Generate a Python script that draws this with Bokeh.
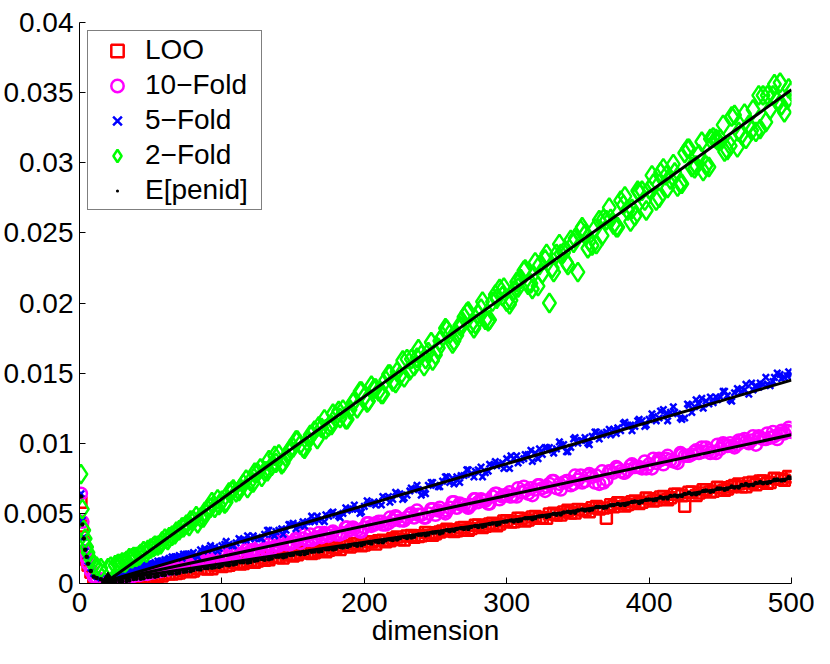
import numpy as np
from bokeh.plotting import figure
from bokeh.models import Legend, LegendItem, FixedTicker, Range1d
from bokeh.embed import file_html
from bokeh.resources import INLINE

# values, in units of 1e-4
SCALE = 1e-4

early_dims = [1, 2, 3, 4, 5, 6, 8, 10, 12, 15, 20]
main_dims = list(range(25, 505, 5))
dims = early_dims + main_dims
dims2 = list(range(28, 503, 5))
dims3 = list(range(22, 500, 5))

loo = [58, 41, 30, 22, 17, 13, 8, 4, 3, 2, 1,
       0.5, 1.4, 2.6, 2.8, 4.3, 4.4, 5.2, 6.9, 6.8, 7.5,
       9.4, 9.0, 10.5, 10.3, 12.6, 12.2, 13.0, 14.9, 14.3, 16.4,
       16.0, 16.6, 18.9, 18.5, 20.3, 19.6, 21.8, 22.4, 22.0, 24.2,
       23.7, 25.3, 26.9, 26.0, 28.1, 27.5, 29.6, 30.5, 29.8, 32.0,
       31.4, 33.9, 33.0, 34.1, 36.2, 35.4, 37.5, 38.3, 37.6, 39.9,
       39.3, 41.7, 40.8, 43.0, 42.5, 44.7, 44.0, 46.4, 45.3, 47.8,
       47.0, 49.5, 48.8, 50.9, 50.2, 52.7, 51.9, 54.0, 53.2, 46.5,
       54.8, 57.4, 56.3, 58.9, 58.0, 60.5, 59.6, 62.0, 61.1, 63.6,
       55.0, 65.2, 64.5, 66.8, 65.7, 68.3, 67.4, 69.9, 69.0, 71.6,
       70.4, 73.0, 72.1, 74.5, 73.6, 76.0]
loo2 = [1.0, 2.4, 2.3, 4.2, 4.2, 6.0, 5.3, 7.0, 7.1, 9.2,
        8.4, 10.8, 10.8, 10.5, 13.0, 12.6, 14.9, 13.9, 15.6, 15.1,
        18.1, 16.9, 18.9, 18.1, 20.9, 20.5, 22.9, 21.4, 23.7, 22.7,
        25.7, 24.2, 26.7, 28.4, 27.0, 29.7, 28.2, 30.9, 30.4, 33.2,
        31.1, 34.2, 33.5, 36.3, 34.4, 36.7, 38.6, 37.0, 39.6, 38.0,
        41.6, 40.0, 42.5, 41.1, 44.6, 43.8, 46.6, 44.5, 47.5, 46.6,
        46.6, 50.1, 48.9, 52.2, 50.2, 52.5, 51.2, 54.9, 53.8, 56.2,
        57.5, 55.3, 58.2, 57.1, 60.9, 58.9, 61.7, 59.7, 63.6, 62.5,
        65.0, 62.7, 66.8, 65.2, 68.6, 66.4, 69.0, 71.0, 68.9, 72.2,
        73.1, 71.5, 75.0, 74.3, 76.3]

fold10 = [64, 44, 29, 23, 18, 14, 9, 5, 4, 3, 2,
          3, 4, 5, 6, 7, 8, 9, 10, 11, 12,
          13, 14, 15, 16, 17, 19, 19, 21, 21, 23,
          23, 25, 25, 27, 28, 29, 29, 31, 32, 33,
          34, 35, 36, 38, 38, 40, 41, 44, 42, 45,
          45, 47, 47, 49, 50, 49, 51, 54, 54, 56,
          56, 58, 59, 62, 60, 63, 63, 65, 64, 67,
          68, 71, 68, 72, 70, 74, 73, 76, 71, 74,
          79, 80, 81, 83, 82, 85, 86, 85, 88, 86,
          91, 92, 93, 97, 94, 96, 98, 97, 102, 100,
          99, 103, 104, 103, 107, 108]
fold10_2 = [4, 4, 6, 7, 7, 9, 10, 11, 11, 13,
            15, 14, 18, 17, 16, 20, 22, 21, 24, 24,
            23, 28, 27, 31, 28, 31, 35, 31, 36, 35,
            37, 35, 40, 39, 37, 43, 43, 42, 47, 47,
            45, 50, 49, 47, 53, 54, 52, 58, 56, 54,
            60, 59, 57, 64, 63, 62, 68, 66, 63, 70,
            69, 73, 67, 73, 77, 72, 78, 77, 72, 80,
            82, 79, 85, 83, 82, 89, 88, 91, 87, 92,
            91, 95, 94, 93, 99, 99, 98, 102, 101, 105,
            104, 107, 105, 109, 111]
fold10_3 = [3, 3, 4, 5, 6, 7, 8, 9, 10, 11,
            14, 13, 17, 16, 19, 17, 20, 23, 20, 24,
            24, 27, 25, 30, 29, 28, 32, 32, 35, 33,
            36, 36, 35, 40, 40, 37, 43, 42, 44, 43,
            48, 45, 49, 52, 47, 53, 52, 50, 58, 57,
            55, 60, 60, 57, 64, 62, 65, 62, 69, 68,
            70, 66, 73, 71, 73, 71, 77, 77, 72, 80,
            80, 83, 79, 84, 83, 87, 82, 89, 89, 87,
            93, 91, 94, 97, 95, 93, 100, 100, 99, 103,
            102, 105, 103, 108, 107, 109]

fold5 = [64, 45, 33, 26, 20, 16, 11, 7, 5, 4, 3,
         6, 8, 10, 11, 13, 14, 16, 17, 19, 20,
         21, 22, 24, 24, 26, 27, 28, 29, 31, 32,
         33, 35, 35, 38, 38, 43, 41, 44, 44, 46,
         48, 49, 50, 53, 53, 55, 57, 58, 61, 60,
         64, 63, 67, 63, 70, 70, 73, 72, 76, 77,
         78, 81, 79, 84, 85, 89, 89, 88, 92, 93,
         92, 97, 96, 99, 97, 100, 104, 105, 103, 108,
         110, 109, 113, 112, 116, 117, 116, 124, 122, 121,
         118, 122, 128, 130, 129, 133, 134, 136, 137, 135,
         141, 142, 141, 150, 147, 149]
fold5_2 = [7, 9, 10, 12, 14, 15, 16, 18, 19, 21,
           21, 19, 25, 24, 25, 30, 27, 31, 34, 32,
           32, 38, 37, 35, 42, 42, 41, 48, 45, 49,
           51, 47, 52, 56, 51, 57, 56, 62, 58, 64,
           61, 68, 67, 64, 72, 69, 76, 71, 77, 81,
           80, 76, 85, 84, 82, 91, 86, 92, 87, 96,
           97, 93, 99, 94, 104, 102, 99, 108, 107, 106,
           111, 115, 109, 117, 113, 119, 123, 116, 122, 117,
           127, 131, 125, 133, 131, 137, 130, 138, 142, 138,
           143, 142, 147, 146, 151]
fold5_3 = [5, 7, 8, 10, 11, 13, 14, 16, 17, 19,
           18, 21, 20, 23, 27, 23, 28, 27, 32, 31,
           34, 32, 38, 34, 39, 42, 39, 44, 44, 48,
           44, 50, 48, 54, 53, 50, 59, 58, 56, 62,
           65, 60, 66, 70, 65, 72, 69, 76, 75, 72,
           81, 76, 83, 80, 87, 86, 82, 91, 89, 95,
           89, 97, 95, 101, 94, 103, 102, 100, 108, 106,
           110, 107, 114, 113, 116, 112, 121, 118, 121, 126,
           118, 128, 126, 132, 128, 133, 137, 131, 139, 138,
           143, 140, 147, 144, 149, 148]

fold2 = [78, 53, 38, 32, 26, 22, 17, 13, 12, 11, 11,
         13, 15, 18, 19, 23, 25, 27, 32, 34, 38,
         42, 45, 47, 53, 54, 59, 65, 65, 71, 73,
         79, 80, 84, 92, 90, 97, 99, 101, 109, 111,
         112, 119, 124, 124, 125, 133, 141, 137, 145, 144,
         148, 160, 155, 163, 165, 163, 176, 178, 177, 190,
         185, 192, 188, 201, 210, 201, 209, 217, 213, 229,
         221, 200, 235, 236, 245, 222, 249, 241, 259, 259,
         256, 273, 266, 262, 280, 281, 273, 296, 288, 283,
         307, 297, 306, 298, 318, 317, 309, 334, 320, 327,
         322, 348, 338, 344, 336, 351]
fold2_2 = [14, 16, 19, 21, 24, 27, 30, 33, 37, 40,
           45, 43, 51, 58, 56, 58, 67, 68, 68, 79,
           76, 88, 86, 86, 96, 102, 96, 106, 112, 110,
           121, 118, 117, 130, 137, 130, 139, 135, 149, 151,
           147, 160, 167, 160, 159, 173, 181, 173, 183, 194,
           185, 201, 188, 203, 211, 202, 211, 224, 210, 227,
           235, 222, 235, 227, 246, 254, 244, 242, 260, 260,
           254, 276, 267, 279, 266, 285, 293, 282, 293, 285,
           310, 298, 294, 317, 316, 308, 333, 322, 317, 338,
           324, 348, 356, 341, 353]
fold2_3 = [12, 14, 15, 18, 20, 22, 26, 28, 31, 35,
           40, 41, 48, 47, 54, 60, 57, 66, 66, 74,
           72, 82, 80, 91, 85, 94, 102, 97, 106, 103,
           117, 113, 123, 117, 129, 137, 129, 139, 135, 149,
           143, 159, 152, 161, 155, 172, 168, 182, 171, 184,
           193, 182, 196, 187, 206, 205, 199, 215, 223, 214,
           212, 231, 225, 242, 229, 243, 252, 239, 253, 248,
           268, 254, 270, 258, 280, 273, 291, 275, 291, 299,
           285, 310, 296, 315, 297, 317, 327, 312, 311, 335,
           323, 348, 329, 348, 357, 345]

penid = [62, 42, 32, 24, 19, 14, 9, 5, 4, 3, 2,
         0.7, 1.5, 2.2, 3.3, 3.8, 4.9, 5.4, 6.1, 7.2, 7.7,
         8.5, 9.6, 10.0, 11.1, 11.5, 12.7, 13.1, 14.0, 15.1, 15.4,
         16.6, 17.0, 17.8, 19.0, 19.3, 20.5, 20.8, 21.7, 22.9, 23.1,
         24.5, 24.7, 25.6, 26.9, 27.0, 28.4, 28.6, 29.5, 30.9, 31.0,
         32.3, 32.5, 33.4, 34.8, 34.9, 36.3, 36.4, 37.3, 38.8, 38.8,
         40.2, 40.3, 41.2, 42.7, 42.6, 44.2, 44.2, 45.0, 46.6, 46.5,
         48.1, 48.1, 49.0, 50.6, 50.4, 52.1, 52.0, 52.8, 54.5, 54.3,
         56.0, 55.9, 56.8, 58.5, 58.2, 59.9, 59.8, 60.6, 62.4, 62.1,
         63.8, 63.7, 64.6, 66.3, 66.0, 67.8, 67.5, 68.5, 70.2, 69.9,
         71.7, 71.4, 72.4, 74.1, 73.8, 75.4]
penid2 = [1.5, 1.7, 3.2, 3.4, 4.7, 4.8, 6.1, 7.2, 7.2, 8.4,
          8.7, 10.1, 11.1, 11.2, 11.7, 13.4, 13.5, 15.1, 14.9, 16.3,
          17.4, 17.3, 19.0, 18.7, 20.3, 21.4, 21.0, 22.7, 22.8, 24.4,
          24.2, 26.1, 26.0, 27.7, 27.2, 29.0, 30.0, 29.5, 31.4, 31.3,
          33.1, 32.8, 34.8, 34.4, 36.1, 35.7, 38.0, 37.7, 39.4, 38.9,
          41.0, 40.5, 42.4, 41.9, 44.0, 45.0, 44.5, 46.5, 45.9, 47.8,
          47.4, 49.7, 49.2, 51.1, 50.5, 52.7, 52.2, 54.5, 54.0, 55.8,
          56.7, 56.0, 58.1, 57.4, 59.8, 59.3, 61.5, 60.6, 62.8, 62.3,
          64.7, 63.7, 66.0, 65.5, 67.8, 66.8, 69.2, 68.5, 71.0, 70.3,
          72.4, 71.7, 74.0, 73.5, 75.7]

# linear fits (start/end), in units of 1e-4
fit_dims = [20, 500]
fit_loo = [2, 75]
fit_10 = [2, 106]
fit_5 = [2, 145]
fit_2 = [2, 352]

min_dim = [20]
min_val = [1]

x_ticks = [0, 100, 200, 300, 400, 500]
y_ticks = [0, 0.005, 0.01, 0.015, 0.02, 0.025, 0.03, 0.035, 0.04]
y_tick_labels = ["0", "0.005", "0.01", "0.015", "0.02", "0.025", "0.03", "0.035", "0.04"]
x_label = "dimension"

for s in (loo, fold10, fold5, fold2, penid):
    assert len(s) == len(dims), len(s)
for s in (loo2, fold10_2, fold5_2, fold2_2, penid2):
    assert len(s) == len(dims2), len(s)
for s in (fold10_3, fold5_3, fold2_3):
    assert len(s) == len(dims3), len(s)

def sc(v):
    return (np.array(v, dtype=float) * SCALE).tolist()

FONT = "Liberation Sans"
FS = "28px"

p = figure(width=814, height=648, output_backend="svg", toolbar_location=None,
           x_range=Range1d(0, 500), y_range=Range1d(0, 0.04),
           min_border_left=78, min_border_right=23, min_border_top=22, min_border_bottom=61)
p.outline_line_color = None
p.xgrid.visible = False
p.ygrid.visible = False
p.background_fill_color = "white"

r_loo = p.scatter(dims + dims2, sc(loo + loo2), marker="square", size=11, fill_color=None,
                  line_color="#ff0000", line_width=2.5)
r_10 = p.scatter(dims + dims2 + dims3, sc(fold10 + fold10_2 + fold10_3), marker="circle",
                 size=12, fill_color=None, line_color="#ff00ff", line_width=2.5)
r_5 = p.scatter(dims + dims2 + dims3, sc(fold5 + fold5_2 + fold5_3), marker="x", size=9,
                line_color="#0000ff", line_width=2.5)
r_2 = p.scatter(dims + dims2 + dims3, sc(fold2 + fold2_2 + fold2_3), marker="diamond",
                size=19, fill_color=None, line_color="#00ff00", line_width=2.5)
r_pen = p.scatter(dims + dims2, sc(penid + penid2), marker="dot", size=18,
                  line_color="black", fill_color="black")

for fit in (fit_loo, fit_10, fit_5, fit_2):
    p.line(fit_dims, sc(fit), line_color="black", line_width=3)

p.scatter(min_dim, sc(min_val), marker="diamond", size=20,
          fill_color="black", line_color="black")

p.xaxis.ticker = FixedTicker(ticks=x_ticks)
p.yaxis.ticker = FixedTicker(ticks=y_ticks)
p.yaxis.major_label_overrides = {t: l for t, l in zip(y_ticks, y_tick_labels)}
p.xaxis.major_label_overrides = {t: str(t) for t in x_ticks}

for ax in p.axis:
    ax.major_tick_in = 6
    ax.major_tick_out = 0
    ax.minor_tick_line_color = None
    ax.axis_line_color = "black"
    ax.major_tick_line_color = "black"
    ax.major_label_text_font = FONT
    ax.major_label_text_font_size = FS
    ax.major_label_text_color = "black"
    ax.major_label_standoff = 6
p.xaxis.major_label_standoff = 9

p.xaxis.axis_label = x_label
p.xaxis.axis_label_text_font = FONT
p.xaxis.axis_label_text_font_size = FS
p.xaxis.axis_label_text_font_style = "normal"
p.xaxis.axis_label_text_color = "black"
p.xaxis.axis_label_standoff = 0

legend = Legend(items=[
    LegendItem(label="LOO", renderers=[r_loo]),
    LegendItem(label="10\u2212Fold", renderers=[r_10]),
    LegendItem(label="5\u2212Fold", renderers=[r_5]),
    LegendItem(label="2\u2212Fold", renderers=[r_2]),
    LegendItem(label="E[penid]", renderers=[r_pen]),
], location="top_left")
legend.label_text_font = FONT
legend.label_text_font_size = FS
legend.label_text_color = "black"
legend.border_line_color = "black"
legend.border_line_width = 1
legend.background_fill_color = "white"
legend.background_fill_alpha = 1.0
legend.padding = 3
legend.spacing = 3
legend.glyph_width = 52
legend.glyph_height = 31
legend.label_height = 31
legend.label_width = 113
legend.label_standoff = 2
legend.margin = 8
p.add_layout(legend)

open("out.html", "w").write(file_html(p, INLINE))
